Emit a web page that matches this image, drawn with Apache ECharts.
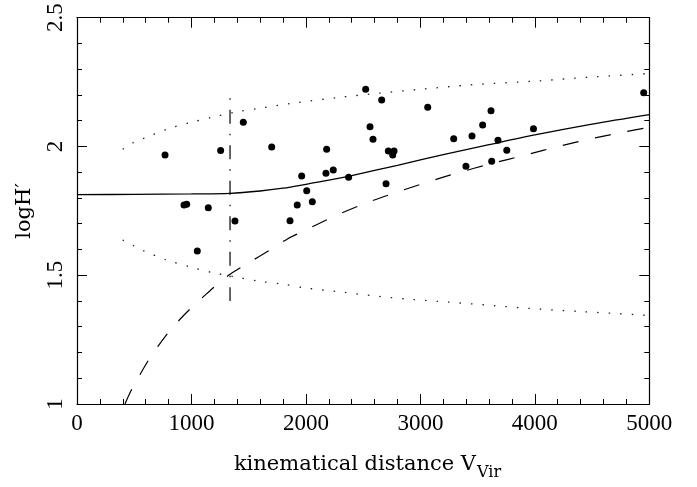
<!DOCTYPE html>
<html>
<head>
<meta charset="utf-8">
<script src="https://cdn.jsdelivr.net/npm/echarts@6/dist/echarts.min.js"></script>
<style>
  html, body { margin: 0; padding: 0; background: #fff; }
  #chart { width: 697px; height: 487px; }
</style>
</head>
<body>
<div id="chart"></div>
<script>
// ---- data ----
const xTicks = [0, 1000, 2000, 3000, 4000, 5000];
const yTicks = [1, 1.5, 2, 2.5];

// galaxies (filled dots)
const ptX = [769, 935, 958, 1051, 1147, 1255, 1380, 1453, 1701, 1861, 1924, 1963, 2007, 2056, 2175, 2181, 2239, 2373, 2522, 2560, 2586, 2662, 2700, 2720, 2758, 2770, 3064, 3291, 3398, 3451, 3544, 3617, 3623, 3678, 3755, 3988, 4951];
const ptY = [1.967, 1.773, 1.776, 1.594, 1.762, 1.984, 1.711, 2.094, 1.998, 1.712, 1.773, 1.885, 1.828, 1.785, 1.896, 1.989, 1.909, 1.880, 2.222, 2.077, 2.028, 2.180, 1.855, 1.982, 1.967, 1.982, 2.152, 2.030, 1.923, 2.041, 2.083, 2.139, 1.943, 2.024, 1.985, 2.069, 2.209];

// solid curve
const solidX = [0, 500, 1000, 1337, 1600, 1800, 2000, 2200, 2400, 2800, 3200, 3600, 4000, 4500, 5000];
const solidY = [1.813, 1.814, 1.816, 1.818, 1.827, 1.838, 1.853, 1.869, 1.887, 1.927, 1.968, 2.007, 2.045, 2.087, 2.124];

// dashed curve
const dashX = [419, 483, 631, 710, 804, 900, 1002, 1112, 1226, 1337, 1468, 1686, 1846, 1948, 2239, 2516, 2793, 3070, 3346, 3608, 3929, 4214, 4511, 4802, 5000];
const dashY = [1.0, 1.061, 1.175, 1.226, 1.281, 1.329, 1.375, 1.420, 1.465, 1.504, 1.540, 1.598, 1.643, 1.665, 1.727, 1.779, 1.822, 1.863, 1.900, 1.932, 1.968, 2.001, 2.032, 2.058, 2.074];

// upper dotted curve
const upperX = [399, 492, 588, 784, 981, 1177, 1380, 1584, 1890, 2298, 2618, 3025, 3434, 4045, 4467, 5000];
const upperY = [1.989, 2.015, 2.032, 2.067, 2.092, 2.113, 2.133, 2.148, 2.168, 2.191, 2.206, 2.223, 2.239, 2.255, 2.269, 2.283];

// lower dotted curve
const lowerX = [399, 492, 588, 784, 981, 1177, 1380, 1584, 1788, 1992, 2304, 2612, 2924, 3230, 3643, 3952, 4365, 4881, 5000];
const lowerY = [1.637, 1.615, 1.594, 1.559, 1.533, 1.511, 1.494, 1.477, 1.466, 1.451, 1.435, 1.419, 1.406, 1.396, 1.382, 1.371, 1.360, 1.347, 1.344];

// vertical dash-dot marker
const vlineX = [1337, 1337];
const vlineY = [2.187, 1.400];

const xTitle = 'kinematical distance V';
const xTitleSub = 'Vir';
const yTitle = 'logH\u2032';

// ---- build chart ----
const zip = (a, b) => a.map((v, i) => [v, b[i]]);
const tickFont = 'Liberation Serif';
const titleFont = 'DejaVu Serif';

const axisCommon = {
  type: 'value',
  axisLine: { show: true, onZero: false, lineStyle: { color: '#000', width: 1.2 } },
  axisTick: { show: true, inside: true, length: 10, lineStyle: { color: '#000', width: 1 } },
  minorTick: { show: true, splitNumber: 5, length: 5, lineStyle: { color: '#000', width: 1 } },
  splitLine: { show: false },
  minorSplitLine: { show: false }
};

const xMin = xTicks[0], xMax = xTicks[xTicks.length - 1], xInt = xTicks[1] - xTicks[0];
const yMin = yTicks[0], yMax = yTicks[yTicks.length - 1], yInt = yTicks[1] - yTicks[0];

const chart = echarts.init(document.getElementById('chart'), null, { renderer: 'canvas' });
chart.setOption({
  animation: false,
  backgroundColor: '#fff',
  grid: { left: 77, right: 47.7, top: 17.7, bottom: 83, containLabel: false },
  xAxis: [
    Object.assign({}, axisCommon, {
      position: 'bottom', min: xMin, max: xMax, interval: xInt,
      axisLabel: { show: true, margin: 8, color: '#000', fontFamily: tickFont, fontSize: 23,
        formatter: v => String(v) }
    }),
    Object.assign({}, axisCommon, {
      position: 'top', min: xMin, max: xMax, interval: xInt,
      axisLabel: { show: false }
    })
  ],
  yAxis: [
    Object.assign({}, axisCommon, {
      position: 'left', min: yMin, max: yMax, interval: yInt,
      name: yTitle, nameLocation: 'middle', nameRotate: 90, nameGap: 42,
      nameTextStyle: { color: '#000', fontFamily: titleFont, fontSize: 21 },
      axisLabel: { show: true, rotate: 90, margin: 10, color: '#000', fontFamily: tickFont, fontSize: 23,
        formatter: v => String(v) }
    }),
    Object.assign({}, axisCommon, {
      position: 'right', min: yMin, max: yMax, interval: yInt,
      axisLabel: { show: false }
    })
  ],
  graphic: [
    { type: 'text', silent: true,
      style: { x: 476, y: 465, text: xTitle, fill: '#000', font: '21px "DejaVu Serif"',
        align: 'right', verticalAlign: 'middle' } },
    { type: 'text', silent: true,
      style: { x: 477, y: 473, text: xTitleSub, fill: '#000', font: '16px "DejaVu Serif"',
        align: 'left', verticalAlign: 'middle' } }
  ],
  series: [
    { type: 'line', data: zip(upperX, upperY), symbol: 'none', smooth: 0.3, silent: true,
      lineStyle: { color: '#222', width: 1.3, type: [1.5, 10] } },
    { type: 'line', data: zip(lowerX, lowerY), symbol: 'none', smooth: 0.3, silent: true,
      lineStyle: { color: '#222', width: 1.3, type: [1.5, 10] } },
    { type: 'line', data: zip(dashX, dashY), symbol: 'none', smooth: 0.3, silent: true,
      lineStyle: { color: '#000', width: 1.2, type: [16, 17] } },
    { type: 'line', data: zip(solidX, solidY), symbol: 'none', smooth: 0.3, silent: true,
      lineStyle: { color: '#000', width: 1.3, type: 'solid' } },
    { type: 'line', data: zip(vlineX, vlineY), symbol: 'none', silent: true,
      lineStyle: { color: '#000', width: 1.2, type: [1.5, 10, 14, 10] } },
    { type: 'scatter', data: zip(ptX, ptY), symbol: 'circle', symbolSize: 7, silent: true,
      itemStyle: { color: '#000', opacity: 1 }, z: 5 }
  ]
});
</script>
</body>
</html>
